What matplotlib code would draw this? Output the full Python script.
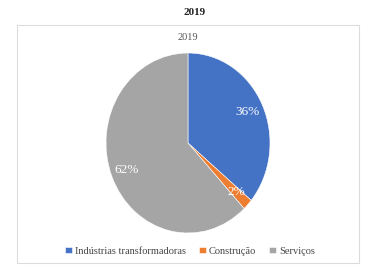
import matplotlib.pyplot as plt
from matplotlib.patches import Rectangle

categories = ["Indústrias transformadoras", "Construção", "Serviços"]
values = [36, 2, 62]
colors = ["#4472C4", "#ED7D31", "#A5A5A5"]

plt.rcParams['font.family'] = ['Liberation Serif', 'DejaVu Serif']

fig = plt.figure(figsize=(3.89, 2.67), dpi=100)
fig.patch.set_facecolor('white')

# outer bold title
fig.text(0.5, 0.955, "2019", ha='center', va='center', fontsize=8, fontweight='bold', color='#222222')

# chart box
box = Rectangle((17/389, 1-263/267), 342/389, (263-25)/267, transform=fig.transFigure,
                facecolor='white', edgecolor='#dcdcdc', linewidth=0.8, zorder=-5)
fig.patches.append(box)
fig.text(188/389, 1-38/267, "2019", ha='center', va='center', fontsize=7.5, color='#555555')

rx, ry = 82, 90
cx, cy = 188, 143
ax = fig.add_axes([(cx - rx)/389, 1-(cy + ry)/267, 2*rx/389, 2*ry/267], zorder=5)
ax.patch.set_alpha(0)
wedges, texts, autotexts = ax.pie(values, colors=colors, startangle=90, counterclock=False,
                                  autopct='%1.0f%%', pctdistance=0.8,
                                  wedgeprops=dict(edgecolor='white', linewidth=0.4),
                                  textprops=dict(color='white', fontsize=9.5))
ax.set_aspect('auto')
ax.set_xlim(-1, 1)
ax.set_ylim(-1, 1)

leg = fig.legend(wedges, categories, loc='center', bbox_to_anchor=(190/389, 1-251/267),
                 ncol=3, frameon=False, fontsize=7.5, handlelength=0.6, handleheight=0.6,
                 handletextpad=0.3, columnspacing=1.3, labelcolor='#444444')

fig.savefig('out.png', dpi=100)
